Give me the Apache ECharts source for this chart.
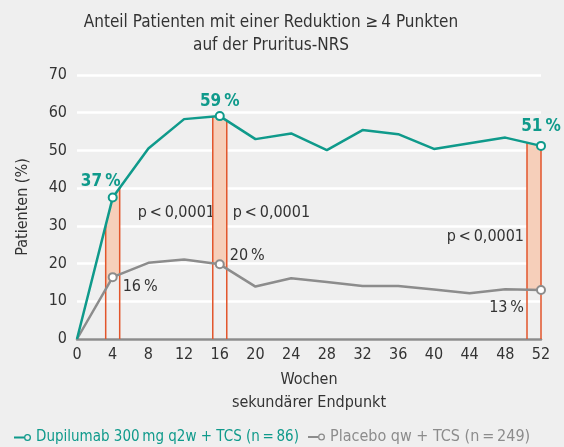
<!DOCTYPE html>
<html>
<head>
<meta charset="utf-8">
<script src="https://cdn.jsdelivr.net/npm/echarts@6/dist/echarts.min.js"></script>
<style>
html,body{margin:0;padding:0;background:#efefef;}
#chart{width:564px;height:447px;}
</style>
</head>
<body>
<div id="chart"></div>
<script>
// Daten
var weeks = [0, 4, 8, 12, 16, 20, 24, 28, 32, 36, 40, 44, 48, 52];
var dupilumab = [0, 37.5, 50.5, 58.3, 59.1, 53.0, 54.5, 50.1, 55.4, 54.3, 50.4, 51.9, 53.4, 51.2];
var placebo = [0, 16.4, 20.2, 21.1, 19.8, 13.9, 16.1, 15.1, 14.05, 14.05, 13.1, 12.1, 13.2, 13.0];
var markedWeeks = [4, 16, 52];
var dupiLabels = ['37\u2009%', '59\u2009%', '51\u2009%'];
var placeboLabels = ['16\u2009%', '20\u2009%', '13\u2009%'];
var pLabels = ['p\u2009<\u20090,0001', 'p\u2009<\u20090,0001', 'p\u2009<\u20090,0001'];
var yTicks = [0, 10, 20, 30, 40, 50, 60, 70];
var seriesNames = ['Dupilumab 300\u2009mg q2w + TCS (n\u2009=\u200986)', 'Placebo qw + TCS (n\u2009=\u2009249)'];

var FONT = "'Liberation Sans Narrow', 'DejaVu Sans Condensed', sans-serif";
var TEAL = '#0f9a8b';
var GREY = '#8c8c8c';
var ORANGE = '#e2552b';
var FILL = '#f6cfba';
var TXT = '#333333';

// Beschriftungs-Versatz je markiertem Punkt
var dupiLabelPos = [
    {position: 'top', offset: [-12, 3]},
    {position: 'top', offset: [0, 4]},
    {position: 'top', offset: [0, -1]}
];
var placeboLabelPos = [
    {position: 'right', offset: [0, 10]},
    {position: 'right', offset: [0, -8]},
    {position: 'left', offset: [-7, 18]}
];
// Band um den Punkt (Pixel), p-Text Lage
var bandPx = [[-7, 7], [-7, 7], [-14, 0]];
var pTextLayout = [
    {side: 'right', dx: 18, y: 33.4},
    {side: 'right', dx: 6, y: 33.4},
    {side: 'left', dx: -3, y: 27}
];

function buildData(values, labels, pos, color, bold) {
    var out = [];
    for (var i = 0; i < weeks.length; i++) {
        var k = markedWeeks.indexOf(weeks[i]);
        if (k < 0) {
            out.push({value: [weeks[i], values[i]], symbol: 'none'});
        } else {
            out.push({
                value: [weeks[i], values[i]],
                symbol: 'emptyCircle',
                label: {
                    show: true,
                    formatter: labels[k],
                    position: pos[k].position,
                    offset: pos[k].offset,
                    color: color,
                    fontSize: bold ? 17 : 16,
                    fontWeight: bold ? 'bold' : 'normal',
                    fontFamily: FONT
                }
            });
        }
    }
    return out;
}

// lineare Lage auf der gezeichneten Linie (Pixel)
function lineYAt(api, values, x) {
    var pts = [];
    for (var i = 0; i < weeks.length; i++) pts.push(api.coord([weeks[i], values[i]]));
    for (var j = 0; j < pts.length - 1; j++) {
        if (x >= pts[j][0] && x <= pts[j + 1][0]) {
            var t = (x - pts[j][0]) / (pts[j + 1][0] - pts[j][0]);
            return pts[j][1] + t * (pts[j + 1][1] - pts[j][1]);
        }
    }
    return pts[pts.length - 1][1];
}

function renderBand(params, api) {
    var idx = params.dataIndex;
    var w = api.value(0);
    var c = api.coord([w, 0]);
    var xl = c[0] + bandPx[idx][0];
    var xr = c[0] + bandPx[idx][1];
    var wi = weeks.indexOf(w);
    var topMid = api.coord([w, dupilumab[wi]]);
    var botMid = api.coord([w, placebo[wi]]);
    var tl = lineYAt(api, dupilumab, xl), tr = lineYAt(api, dupilumab, xr);
    var bl = lineYAt(api, placebo, xl), br = lineYAt(api, placebo, xr);
    var poly = [[xl, tl]];
    if (topMid[0] > xl && topMid[0] < xr) poly.push(topMid);
    poly.push([xr, tr], [xr, br]);
    if (botMid[0] > xl && botMid[0] < xr) poly.push(botMid);
    poly.push([xl, bl]);
    var y0 = c[1];
    var lay = pTextLayout[idx];
    var tp = api.coord([w, lay.y]);
    return {
        type: 'group',
        children: [
            {type: 'polygon', shape: {points: poly}, style: {fill: FILL}},
            {type: 'line', shape: {x1: xl, y1: y0, x2: xl, y2: tl}, style: {stroke: ORANGE, lineWidth: 1.5}},
            {type: 'line', shape: {x1: xr, y1: y0, x2: xr, y2: tr}, style: {stroke: ORANGE, lineWidth: 1.5}},
            {
                type: 'text',
                x: lay.side === 'right' ? xr + lay.dx : xl + lay.dx,
                y: tp[1],
                style: {
                    text: pLabels[idx],
                    fill: TXT,
                    font: '16px ' + FONT,
                    align: lay.side === 'right' ? 'left' : 'right',
                    verticalAlign: 'middle'
                }
            }
        ]
    };
}

var legendIcon = 'path://M0,3 L10,3 L10,5 L0,5 Z M13.5,0.5 A3.5,3.5 0 1,1 13.5,7.5 A3.5,3.5 0 1,1 13.5,0.5 Z M13.5,1.8 A2.2,2.2 0 1,0 13.5,6.2 A2.2,2.2 0 1,0 13.5,1.8 Z';

var chart = echarts.init(document.getElementById('chart'));
var option = {
    backgroundColor: '#efefef',
    animation: false,
    textStyle: {fontFamily: FONT},
    title: {
        text: 'Anteil Patienten mit einer Reduktion \u2265\u20094 Punkten\nauf der Pruritus-NRS',
        left: 266,
        top: 6,
        textAlign: 'center',
        textStyle: {fontSize: 17, fontWeight: 'normal', color: TXT, lineHeight: 23, fontFamily: FONT}
    },
    legend: [
        {
            left: 14,
            bottom: 2,
            padding: 0,
            itemWidth: 17,
            itemHeight: 7,
            itemGap: 5,
            data: [{name: seriesNames[0], icon: legendIcon}],
            textStyle: {fontSize: 15, color: TEAL, fontFamily: FONT}
        },
        {
            left: 308,
            bottom: 2,
            padding: 0,
            itemWidth: 17,
            itemHeight: 7,
            itemGap: 5,
            data: [{name: seriesNames[1], icon: legendIcon}],
            textStyle: {fontSize: 16, color: GREY, fontFamily: FONT}
        }
    ],
    grid: {left: 77, right: 23, top: 75, bottom: 108},
    xAxis: {
        type: 'value',
        min: 0,
        max: 52,
        interval: 4,
        name: 'Wochen\nsekundärer Endpunkt',
        nameLocation: 'middle',
        nameGap: 29,
        nameTextStyle: {fontSize: 16, color: TXT, lineHeight: 23, verticalAlign: 'top', fontFamily: FONT},
        axisLine: {lineStyle: {color: GREY, width: 2.5}},
        axisTick: {show: false},
        splitLine: {show: false},
        axisLabel: {fontSize: 16, color: TXT, margin: 8, fontFamily: FONT}
    },
    yAxis: {
        type: 'value',
        min: yTicks[0],
        max: yTicks[yTicks.length - 1],
        interval: 10,
        name: 'Patienten (%)',
        nameLocation: 'middle',
        nameGap: 46,
        nameTextStyle: {fontSize: 16, color: TXT, fontFamily: FONT},
        axisLine: {show: false},
        axisTick: {show: false},
        splitLine: {lineStyle: {color: '#ffffff', width: 2.5}},
        axisLabel: {fontSize: 16, color: TXT, margin: 10, fontFamily: FONT}
    },
    series: [
        {
            type: 'custom',
            renderItem: renderBand,
            data: markedWeeks.map(function (w) { return [w, 0]; }),
            z: 1,
            silent: true
        },
        {
            name: seriesNames[1],
            type: 'line',
            color: GREY,
            symbolSize: 8,
            lineStyle: {width: 2.5, color: GREY},
            itemStyle: {color: GREY, borderWidth: 1.5},
            data: buildData(placebo, placeboLabels, placeboLabelPos, TXT, false),
            z: 3
        },
        {
            name: seriesNames[0],
            type: 'line',
            color: TEAL,
            symbolSize: 8,
            lineStyle: {width: 2.5, color: TEAL},
            itemStyle: {color: TEAL, borderWidth: 1.5},
            data: buildData(dupilumab, dupiLabels, dupiLabelPos, TEAL, true),
            z: 4
        }
    ]
};
chart.setOption(option);
</script>
</body>
</html>
